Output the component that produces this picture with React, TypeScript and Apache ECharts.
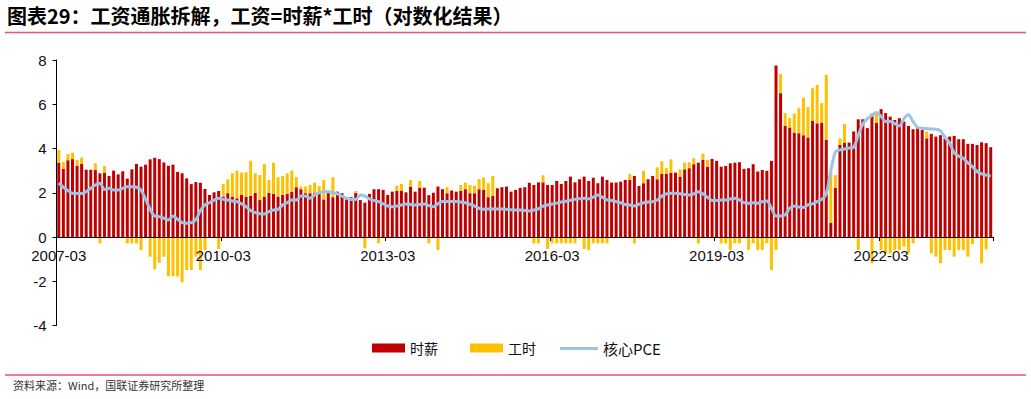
import React, { useEffect, useRef } from "react";
import * as echarts from "echarts";

// Monthly categories 2007-03 .. 2024-03
const categories: string[] = [];
for (let i = 0; i < 205; i++) {
  const y = 2007 + Math.floor((i + 2) / 12);
  const m = ((i + 2) % 12) + 1;
  categories.push(`${y}-${m < 10 ? "0" + m : m}`);
}

// 时薪 (hourly earnings, log yoy)
const wage: number[] = [
  3.36, 3.09, 3.47, 3.52, 3.21, 3.3, 3.04, 3.04, 3.04, 2.88,
  2.91, 2.76, 3.0, 2.83, 2.97, 2.64, 3.06, 3.3, 3.18, 3.27,
  3.51, 3.58, 3.52, 3.37, 3.22, 3.27, 2.94, 2.88, 2.65, 2.39,
  2.48, 2.45, 2.17, 1.9, 2.02, 2.08, 1.83, 1.98, 1.83, 1.75,
  1.9, 1.83, 1.87, 2.0, 1.67, 1.83, 2.0, 1.95, 1.83, 1.9,
  1.95, 2.05, 2.25, 2.16, 1.98, 1.98, 2.0, 2.0, 1.7, 2.0,
  1.8, 2.05, 1.98, 1.8, 1.8, 2.0, 1.67, 1.55, 1.95, 2.16,
  2.16, 2.13, 1.9, 2.05, 2.08, 2.1, 2.02, 2.28, 2.05, 2.23,
  2.23, 1.89, 2.0, 2.28, 2.16, 1.98, 2.1, 2.05, 2.08, 2.16,
  1.98, 1.98, 2.16, 2.13, 1.8, 1.87, 2.2, 2.25, 2.28, 2.05,
  2.13, 2.22, 2.25, 2.45, 2.35, 2.47, 2.47, 2.35, 2.35, 2.53,
  2.4, 2.53, 2.73, 2.47, 2.61, 2.73, 2.53, 2.68, 2.43, 2.73,
  2.58, 2.46, 2.46, 2.5, 2.58, 2.58, 2.76, 2.31, 2.43, 2.61,
  2.76, 2.61, 2.85, 2.85, 2.91, 2.91, 2.73, 3.06, 3.11, 3.29,
  3.36, 3.48, 3.18, 3.53, 3.44, 3.18, 3.21, 3.33, 3.36, 3.38,
  3.08, 3.11, 3.29, 2.96, 3.03, 2.99, 3.44, 7.75, 6.5, 5.02,
  4.95, 4.72, 4.69, 4.6, 4.5, 5.26, 5.14, 5.17, 4.39, 0.65,
  2.23, 4.16, 4.27, 4.27, 4.77, 5.32, 5.32, 4.92, 5.57, 5.17,
  5.78, 5.6, 5.44, 5.29, 5.37, 5.22, 5.02, 4.87, 4.96, 4.84,
  4.46, 4.66, 4.54, 4.6, 4.46, 4.54, 4.57, 4.42, 4.42, 4.21,
  4.21, 4.16, 4.28, 4.24, 4.06,
];

// 工时 (hours, log yoy)
const hours: number[] = [
  0.57, 0.3, 0.28, 0.29, 0.27, 0.29, 0, 0, 0.29, -0.29,
  0.3, 0, 0, 0, 0, -0.29, -0.29, -0.29, -0.59, 0,
  -0.89, -1.46, -1.16, -0.89, -1.78, -1.78, -1.78, -2.05, -1.49, -1.49,
  -0.89, -1.49, -0.59, 0, 0, -0.54, 0.57, 0.63, 1.05, 1.25,
  1.01, 1.1, 1.58, 0.88, 1.13, 1.47, 0.58, 1.41, 0.87, 0.86,
  0.93, 0.95, 0.45, 0.12, 0.3, 0.37, 0.46, 0.3, 0.88, 0,
  0.9, 0, 0, 0, 0, 0.08, 0, -0.51, 0, 0,
  -0.28, 0, 0, 0, 0.24, 0.3, 0, 0.3, 0, 0.3,
  0, -0.29, 0, -0.59, 0, 0.27, 0, 0, 0.27, 0.3,
  0.37, 0.34, 0.46, 0.55, 0.63, 0.89, 0, 0, 0, 0,
  0, 0, 0, 0, -0.29, -0.29, 0.32, -0.54, -0.29, -0.29,
  -0.29, -0.29, -0.29, -0.29, 0, -0.54, -0.59, -0.29, -0.29, -0.29,
  -0.29, 0, 0, 0, 0, 0.27, -0.29, 0, 0.56, 0,
  0, 0.54, 0.57, 0.26, 0.6, 0, 0.33, 0.3, 0.27, 0.27,
  -0.29, 0.29, 0.3, 0, 0, -0.29, -0.29, -0.59, -0.29, -0.29,
  0, -0.59, -0.29, -0.59, -0.59, -0.29, -1.49, -0.59, 0.86, 0.58,
  0.42, 0.86, 1.13, 1.7, 1.37, 1.47, 1.74, 0.88, 2.94, 2.31,
  0.57, 0.3, 0.84, 0, 0, -0.59, 0, 0, -1.19, 0.43,
  -0.59, -0.74, -0.74, -0.59, -0.59, -0.44, -0.74, -0.29, 0, 0,
  0.31, -0.74, -0.89, -1.19, -0.59, -0.59, -0.89, -0.59, -0.59, -0.89,
  -0.32, 0, -1.19, -0.56, 0,
];

// 核心PCE
const pce: number[] = [
  2.43, 2.25, 2.1, 1.98, 1.97, 1.97, 2.05, 2.2, 2.35, 2.43,
  2.15, 2.2, 2.12, 2.12, 2.2, 2.27, 2.27, 2.25, 2.12, 1.7,
  1.25, 0.95, 0.92, 0.85, 0.77, 0.95, 0.8, 0.65, 0.62, 0.65,
  0.77, 1.2, 1.45, 1.55, 1.67, 1.75, 1.7, 1.67, 1.63, 1.6,
  1.5, 1.37, 1.2, 1.1, 1.05, 1.04, 1.15, 1.22, 1.25, 1.45,
  1.55, 1.67, 1.67, 1.85, 1.85, 1.75, 1.9, 2.0, 2.05, 2.05,
  2.0, 1.95, 1.85, 1.75, 1.7, 1.7, 1.9, 1.85, 1.72, 1.65,
  1.6, 1.5, 1.4, 1.37, 1.4, 1.45, 1.49, 1.47, 1.45, 1.47,
  1.49, 1.42, 1.37, 1.5, 1.6, 1.6, 1.6, 1.6, 1.58, 1.55,
  1.48, 1.4, 1.3, 1.25, 1.27, 1.27, 1.27, 1.27, 1.25, 1.23,
  1.22, 1.22, 1.2, 1.18, 1.22, 1.27, 1.4, 1.45, 1.49, 1.53,
  1.58, 1.62, 1.66, 1.7, 1.73, 1.75, 1.72, 1.8, 1.9, 1.8,
  1.68, 1.65, 1.6, 1.55, 1.47, 1.45, 1.4, 1.48, 1.55, 1.58,
  1.6, 1.67, 1.85, 1.95, 1.98, 1.98, 1.95, 1.92, 1.9, 1.95,
  2.05, 1.95, 1.8, 1.65, 1.65, 1.67, 1.67, 1.72, 1.75, 1.68,
  1.55, 1.52, 1.55, 1.52, 1.6, 1.63, 1.3, 0.95, 0.95, 1.0,
  1.3, 1.4, 1.35, 1.33, 1.45, 1.5, 1.6, 1.7, 1.95, 3.0,
  3.85, 3.94, 3.98, 4.02, 4.06, 4.6, 5.1, 5.35, 5.5, 5.63,
  5.45, 5.22, 5.22, 5.12, 5.02, 5.35, 5.52, 5.22, 4.95, 4.92,
  4.9, 4.88, 4.87, 4.8, 4.5, 4.25, 3.8, 3.65, 3.56, 3.35,
  3.18, 2.96, 2.85, 2.8, 2.75,
];

const yTicks = [-4, 8, 2]; // min, max, interval

const TITLE = "图表29：工资通胀拆解，工资=时薪*工时（对数化结果）";
const SOURCE = "资料来源：Wind，国联证券研究所整理";

const legendText = { fontSize: 14, color: "#111", fontFamily: "Noto Sans CJK SC" };

const GRID_TOP = 60;
const GRID_BOTTOM = 73.5;
const CHART_H = 399;

export default function App() {
  const ref = useRef<HTMLDivElement>(null);
  useEffect(() => {
    document.body.style.margin = "0";
    const chart = echarts.init(ref.current!, null, { renderer: "svg" });
    const plotH = CHART_H - GRID_TOP - GRID_BOTTOM;
    // distance of value 0 above the grid's bottom edge
    const zeroOffset = (plotH * (0 - yTicks[0])) / (yTicks[1] - yTicks[0]);
    chart.setOption({
      animation: false,
      backgroundColor: "#ffffff",
      grid: { left: 56.5, right: 38, top: GRID_TOP, bottom: GRID_BOTTOM, containLabel: false },
      legend: [
        {
          left: 367,
          top: 336,
          itemWidth: 33,
          itemHeight: 9,
          itemGap: 32,
          textStyle: legendText,
          data: [
            { name: "时薪", icon: "rect" },
            { name: "工时", icon: "rect" },
          ],
        },
        {
          left: 555,
          top: 336,
          itemWidth: 38,
          itemHeight: 3,
          textStyle: { ...legendText, fontSize: 15 },
          data: [{ name: "核心PCE", icon: "rect" }],
        },
      ],
      xAxis: {
        type: "category",
        data: categories,
        boundaryGap: true,
        offset: -zeroOffset,
        axisLine: { onZero: false, lineStyle: { color: "#000", width: 1 } },
        axisTick: { show: true, interval: 35, length: 4, lineStyle: { color: "#000" } },
        axisLabel: {
          interval: 35,
          fontSize: 15,
          color: "#111",
          margin: 11,
          fontFamily: "Liberation Sans, Arial, sans-serif",
        },
        splitLine: { show: false },
        z: 10,
      },
      yAxis: {
        type: "value",
        min: yTicks[0],
        max: yTicks[1],
        interval: yTicks[2],
        axisLine: { show: true, lineStyle: { color: "#000", width: 1 } },
        axisTick: { show: true, length: 4, lineStyle: { color: "#000" } },
        axisLabel: {
          fontSize: 15,
          color: "#111",
          margin: 10,
          fontFamily: "Liberation Sans, Arial, sans-serif",
        },
        splitLine: { show: false },
      },
      series: [
        {
          name: "时薪",
          type: "bar",
          stack: "w",
          data: wage,
          barWidth: 3,
          itemStyle: { color: "#C00000" },
        },
        {
          name: "工时",
          type: "bar",
          stack: "w",
          data: hours,
          barWidth: 3,
          itemStyle: { color: "#FFC000" },
        },
        {
          name: "核心PCE",
          type: "line",
          data: pce,
          symbol: "none",
          smooth: 0.3,
          z: 5,
          lineStyle: { color: "#9DC3E6", width: 3 },
          itemStyle: { color: "#9DC3E6" },
        },
      ],
      graphic: [
        {
          type: "text",
          left: 7,
          top: 5,
          style: { text: TITLE, font: 'bold 20px "Noto Sans CJK SC"', fill: "#000" },
        },
        {
          type: "line",
          shape: { x1: 5, y1: 32.5, x2: 1026, y2: 32.5 },
          style: { stroke: "#E8516E", lineWidth: 1.5 },
        },
        {
          type: "line",
          shape: { x1: 5, y1: 375, x2: 1026, y2: 375 },
          style: { stroke: "#E8516E", lineWidth: 1.5 },
        },
        {
          type: "text",
          left: 13,
          top: 379,
          style: { text: SOURCE, font: '11px "Noto Sans CJK SC"', fill: "#333" },
        },
      ],
    });
    return () => chart.dispose();
  }, []);
  return <div ref={ref} style={{ width: 1031, height: 399 }} />;
}
